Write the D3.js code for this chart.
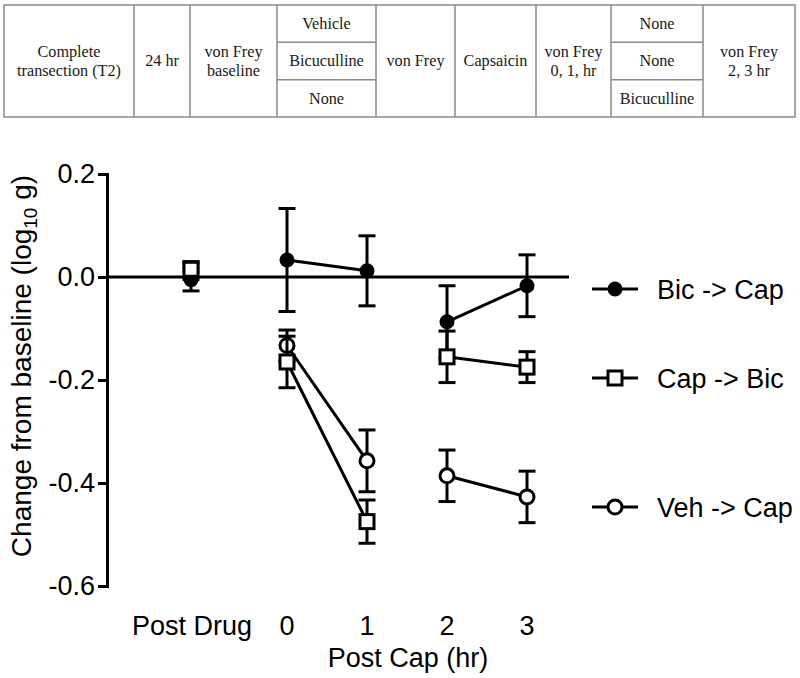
<!DOCTYPE html>
<html>
<head>
<meta charset="utf-8">
<script src="https://cdn.jsdelivr.net/npm/d3@7"></script>
<style>
  html, body { margin: 0; padding: 0; background: #fff; }
  svg { display: block; }
</style>
</head>
<body>
<svg id="chart" width="800" height="678"></svg>
<script>
// ---------- DATA ----------
const timeLabels = ["Post Drug", "0", "1", "2", "3"];
const timeValues = [-1.2, 0, 1, 2, 3];
const yTicks = [0.2, 0.0, -0.2, -0.4, -0.6];

const seriesNames = ["Bic -> Cap", "Cap -> Bic", "Veh -> Cap"];
const bicCapMean = [-0.005, 0.033, 0.012, -0.087, -0.017];
const bicCapErr  = [0.022, 0.100, 0.068, 0.070, 0.060];
const capBicMean = [0.015, -0.165, -0.475, -0.155, -0.175];
const capBicErr  = [0.015, 0.050, 0.042, 0.050, 0.030];
const vehCapMean = [0.010, -0.133, -0.357, -0.386, -0.427];
const vehCapErr  = [0.015, 0.030, 0.060, 0.050, 0.050];
const connectedPairs = [[1, 2], [3, 4]];

const tableColumns = [
  ["Complete", "transection (T2)"],
  ["24 hr"],
  ["von Frey", "baseline"],
  [["Vehicle"], ["Bicuculline"], ["None"]],
  ["von Frey"],
  ["Capsaicin"],
  ["von Frey", "0, 1, hr"],
  [["None"], ["None"], ["Bicuculline"]],
  ["von Frey", "2, 3 hr"]
];

// ---------- LAYOUT ----------
const svg = d3.select("#chart");
const sans = "Liberation Sans, Arial, Helvetica, sans-serif";
const serif = "Liberation Serif, Times New Roman, serif";

// Table
const tableEdges = [4, 134, 190, 277, 376, 455, 536, 611, 703, 795];
const tTop = 5, tBot = 117;
const tbl = svg.append("g");
const borderColor = "#8a8a8a";
tbl.append("rect").attr("x", tableEdges[0]).attr("y", tTop)
  .attr("width", tableEdges[tableEdges.length - 1] - tableEdges[0])
  .attr("height", tBot - tTop).attr("fill", "none")
  .attr("stroke", borderColor).attr("stroke-width", 1.5);
tableEdges.slice(1, -1).forEach(x => {
  tbl.append("line").attr("x1", x).attr("x2", x).attr("y1", tTop).attr("y2", tBot)
    .attr("stroke", borderColor).attr("stroke-width", 1.5);
});
const tFont = 16.2, tLine = 19;
function cellText(lines, cx, cy) {
  const n = lines.length;
  lines.forEach((s, i) => {
    tbl.append("text").attr("x", cx)
      .attr("y", cy + (i - (n - 1) / 2) * tLine + tFont * 0.33)
      .attr("text-anchor", "middle").attr("font-family", serif)
      .attr("font-size", tFont).attr("fill", "#1a1a1a").text(s);
  });
}
tableColumns.forEach((col, i) => {
  const x0 = tableEdges[i], x1 = tableEdges[i + 1];
  const cx = (x0 + x1) / 2;
  if (Array.isArray(col[0])) {
    const rh = (tBot - tTop) / col.length;
    col.forEach((sub, j) => {
      if (j > 0) {
        tbl.append("line").attr("x1", x0).attr("x2", x1)
          .attr("y1", tTop + j * rh).attr("y2", tTop + j * rh)
          .attr("stroke", borderColor).attr("stroke-width", 1.5);
      }
      cellText(sub, cx, tTop + (j + 0.5) * rh);
    });
  } else {
    cellText(col, cx, (tTop + tBot) / 2);
  }
});

// Chart scales
const x = d3.scaleLinear().domain([0, 3]).range([287, 527]);
const y = d3.scaleLinear().domain([-0.6, 0.2]).range([586, 174]);
const axisX = 107;
const fs = 27;

const g = svg.append("g");

// zero line
g.append("line").attr("x1", axisX).attr("x2", x(3) + 42)
  .attr("y1", y(0)).attr("y2", y(0))
  .attr("stroke", "#000").attr("stroke-width", 3);

// Y axis
const yAxis = d3.axisLeft(y).tickValues(yTicks)
  .tickFormat(v => v.toFixed(1)).tickSize(9).tickSizeOuter(9).tickPadding(3);
const ya = g.append("g").attr("transform", `translate(${axisX},0)`).call(yAxis);
ya.select(".domain").attr("stroke", "#000").attr("stroke-width", 3);
ya.selectAll(".tick line").attr("stroke", "#000").attr("stroke-width", 3);
ya.selectAll(".tick text").attr("font-family", sans).attr("font-size", fs).attr("fill", "#000");

// Y label
const yl = g.append("text").attr("transform", `translate(31,366) rotate(-90)`)
  .attr("text-anchor", "middle").attr("font-family", sans).attr("font-size", 28).attr("fill", "#000");
yl.append("tspan").text("Change from baseline (log");
yl.append("tspan").attr("font-size", 19).attr("dy", 6).text("10");
yl.append("tspan").attr("dy", -6).text(" g)");

// X tick labels
timeLabels.forEach((lab, i) => {
  const isFirst = i === 0;
  g.append("text")
    .attr("x", isFirst ? x(timeValues[1]) - 35 : x(timeValues[i]))
    .attr("y", 635)
    .attr("text-anchor", isFirst ? "end" : "middle")
    .attr("font-family", sans).attr("font-size", fs).attr("fill", "#000")
    .text(lab);
});
g.append("text").attr("x", 408).attr("y", 667).attr("text-anchor", "middle")
  .attr("font-family", sans).attr("font-size", fs).attr("fill", "#000")
  .text("Post Cap (hr)");

// Series
const series = [
  { name: seriesNames[2], mean: vehCapMean, err: vehCapErr, shape: "openCircle" },
  { name: seriesNames[0], mean: bicCapMean, err: bicCapErr, shape: "filledCircle" },
  { name: seriesNames[1], mean: capBicMean, err: capBicErr, shape: "openSquare" }
];

function drawMarker(sel, shape, cx, cy) {
  if (shape === "filledCircle") {
    sel.append("circle").attr("cx", cx).attr("cy", cy).attr("r", 7.5).attr("fill", "#000");
  } else if (shape === "openCircle") {
    sel.append("circle").attr("cx", cx).attr("cy", cy).attr("r", 7)
      .attr("fill", "#fff").attr("stroke", "#000").attr("stroke-width", 3);
  } else {
    sel.append("rect").attr("x", cx - 7).attr("y", cy - 7).attr("width", 14).attr("height", 14)
      .attr("fill", "#fff").attr("stroke", "#000").attr("stroke-width", 3);
  }
}

const capW = 8.5;
const line = d3.line().x(d => x(d.t)).y(d => y(d.v));
series.forEach(s => {
  const sg = g.append("g");
  const pts = timeValues.map((t, i) => ({ t, v: s.mean[i], e: s.err[i] }));
  // error bars
  pts.forEach(p => {
    const px = x(p.t);
    sg.append("line").attr("x1", px).attr("x2", px).attr("y1", y(p.v + p.e)).attr("y2", y(p.v - p.e))
      .attr("stroke", "#000").attr("stroke-width", 3);
    [p.v + p.e, p.v - p.e].forEach(v => {
      sg.append("line").attr("x1", px - capW).attr("x2", px + capW).attr("y1", y(v)).attr("y2", y(v))
        .attr("stroke", "#000").attr("stroke-width", 3);
    });
  });
  // connecting lines
  connectedPairs.forEach(([a, b]) => {
    sg.append("path").attr("d", line([pts[a], pts[b]]))
      .attr("fill", "none").attr("stroke", "#000").attr("stroke-width", 3);
  });
  pts.forEach(p => drawMarker(sg, s.shape, x(p.t), y(p.v)));
});

// Legend
const legendRows = [
  { name: seriesNames[0], shape: "filledCircle", cy: 289 },
  { name: seriesNames[1], shape: "openSquare", cy: 378 },
  { name: seriesNames[2], shape: "openCircle", cy: 507 }
];
legendRows.forEach(r => {
  const lg = g.append("g");
  lg.append("line").attr("x1", 592).attr("x2", 638).attr("y1", r.cy).attr("y2", r.cy)
    .attr("stroke", "#000").attr("stroke-width", 3);
  drawMarker(lg, r.shape, 615, r.cy);
  lg.append("text").attr("x", 657).attr("y", r.cy + 9.5)
    .attr("font-family", sans).attr("font-size", fs).attr("fill", "#000").text(r.name);
});
</script>
</body>
</html>
